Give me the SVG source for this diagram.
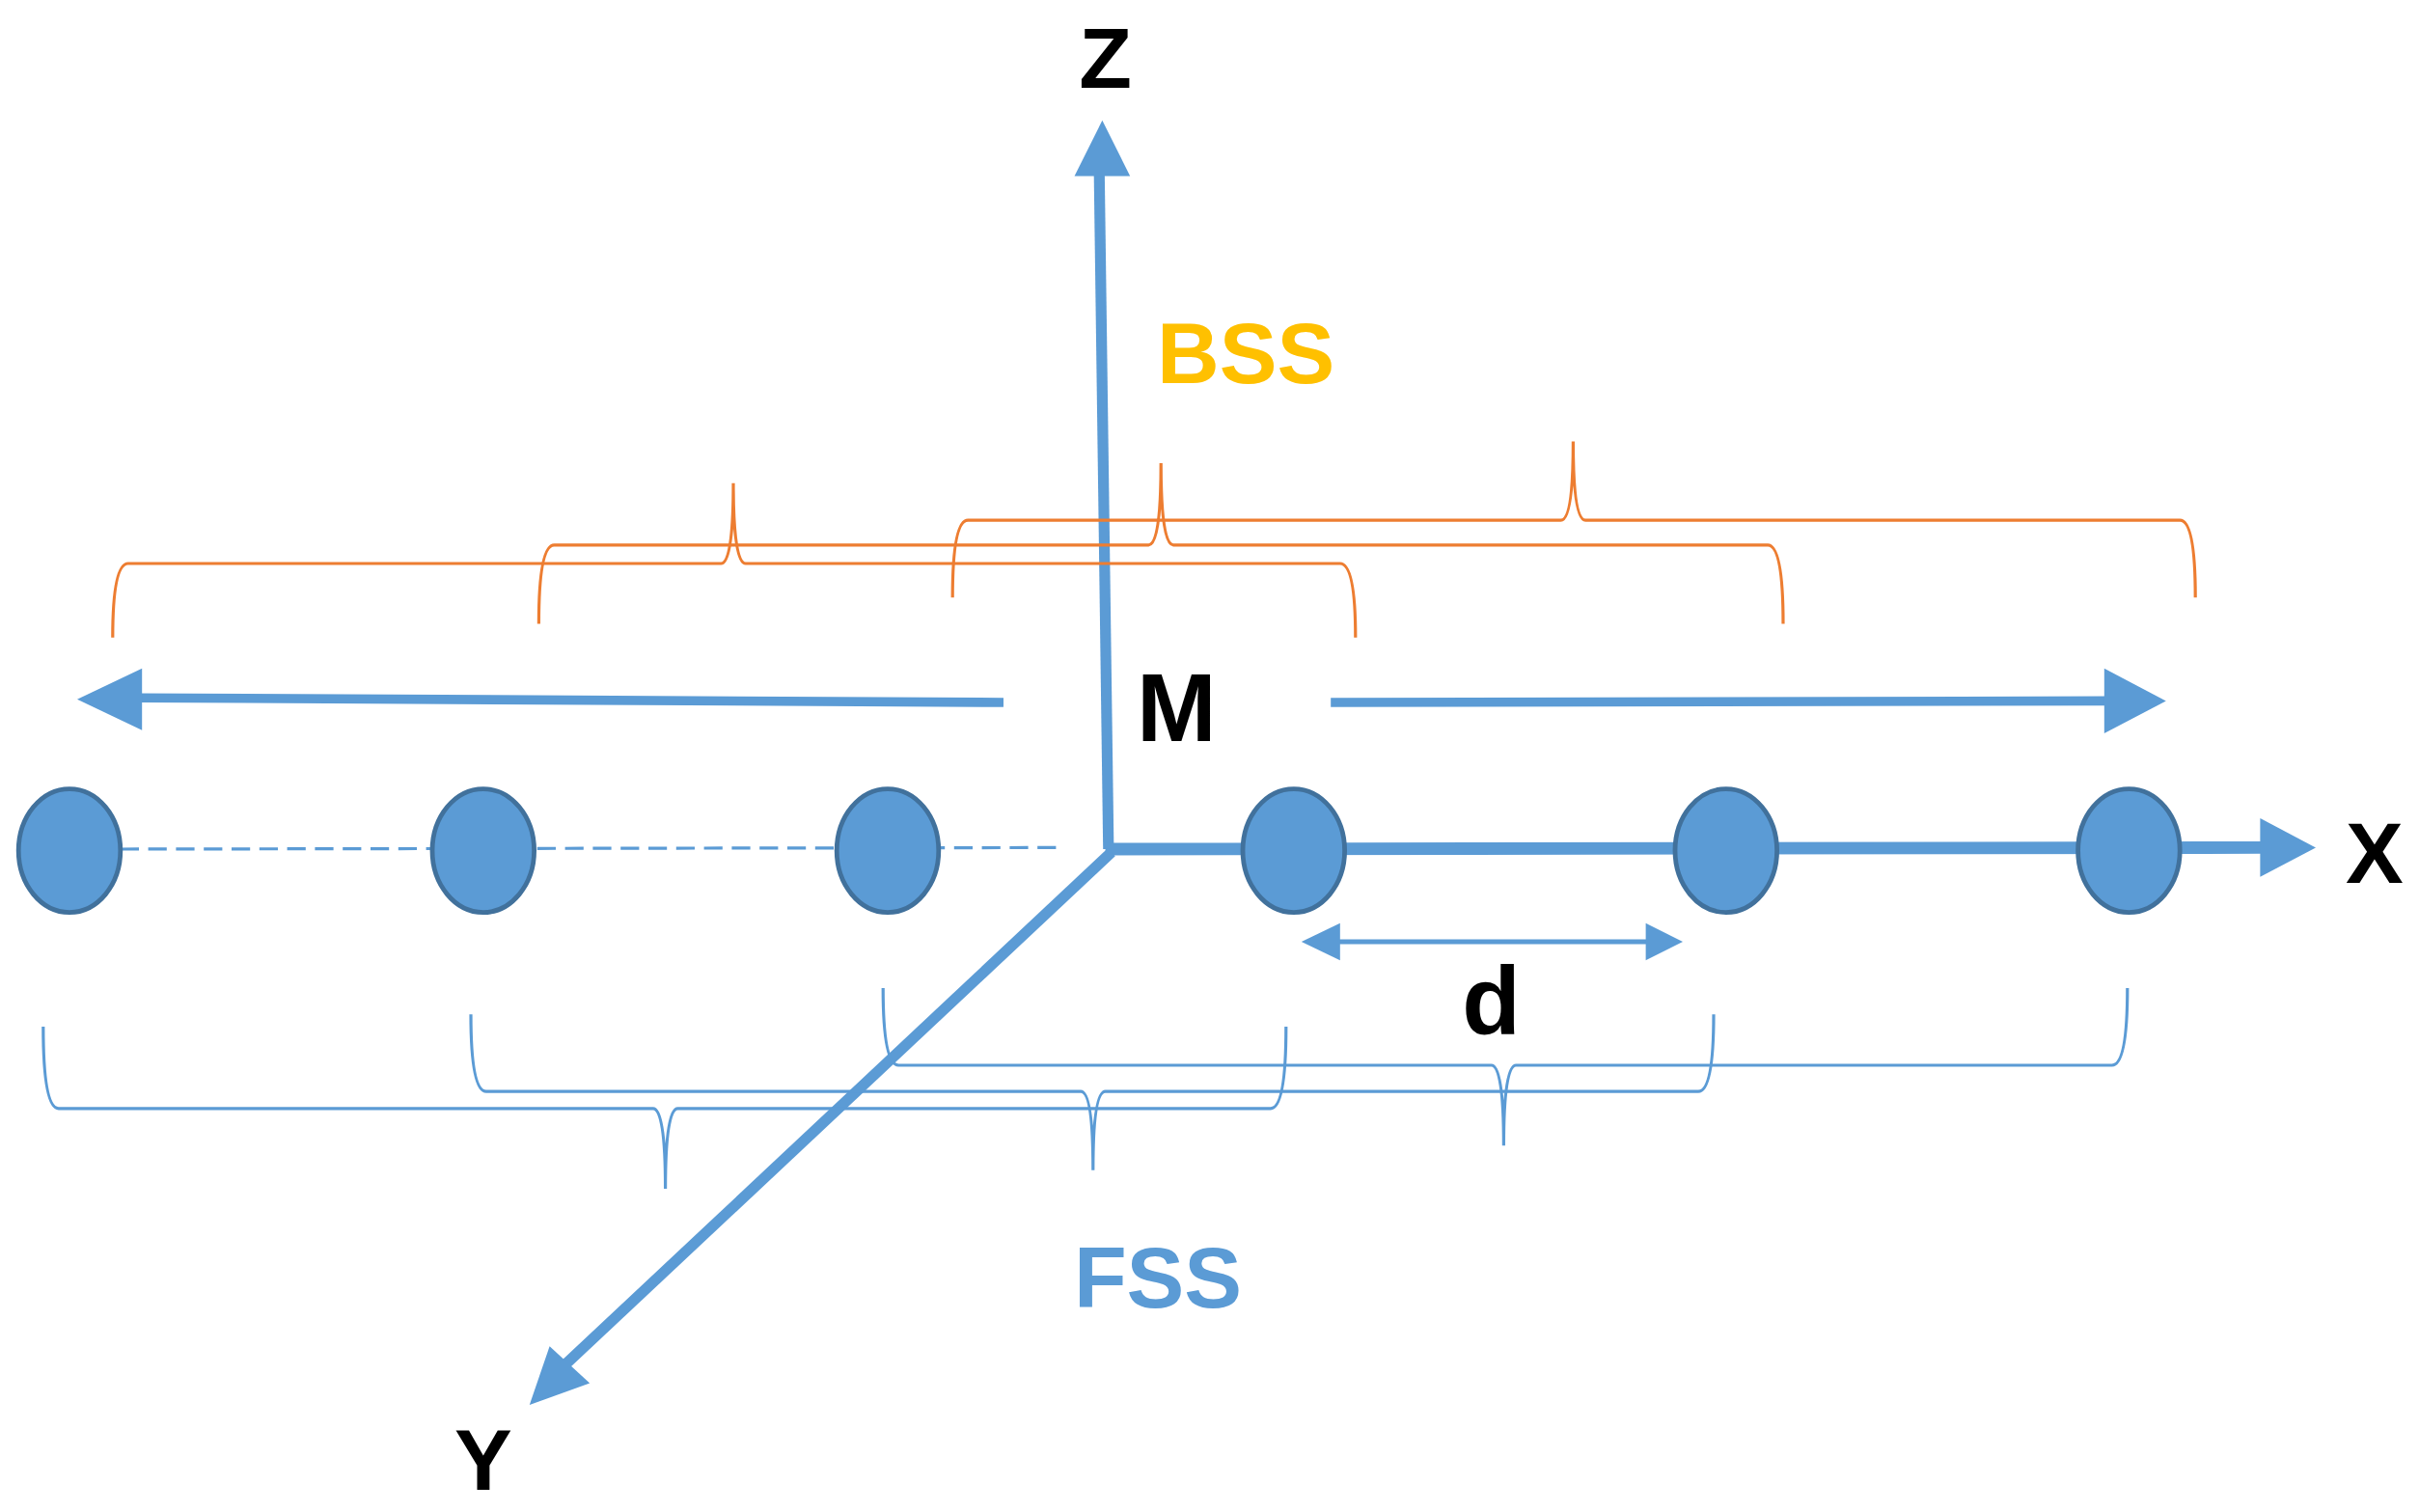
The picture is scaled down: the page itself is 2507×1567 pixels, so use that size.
<svg xmlns="http://www.w3.org/2000/svg" width="2507" height="1567" viewBox="0 0 2507 1567">
<style>
.ax{stroke:#5B9BD5;fill:none}
.hd{fill:#5B9BD5}
.ob{stroke:#ED7D31;stroke-width:2;fill:none}
.bb{stroke:#5B9BD5;stroke-width:2;fill:none}
.nd{fill:#5B9BD5;stroke:#41719C;stroke-width:3}
.t{font-family:"Liberation Sans",Arial,sans-serif;font-weight:bold;text-anchor:middle}
</style>
<rect width="2507" height="1567" fill="#fff"/>
<g transform="scale(1.6)">
<g id="connectors">
<line class="ax" x1="78" y1="550" x2="686" y2="549" stroke-width="2" stroke-dasharray="12,6"/>
<line class="ax" x1="718" y1="550" x2="712" y2="110" stroke-width="7"/>
<polygon class="hd" points="714,78 696,114 732,114"/>
<line class="ax" x1="716" y1="550" x2="1466" y2="549" stroke-width="8"/>
<polygon class="hd" points="1500,549 1464,530 1464,568"/>
<line class="ax" x1="720" y1="552" x2="366" y2="884" stroke-width="7"/>
<polygon class="hd" points="343,910 356,872 382,896"/>
<line class="ax" x1="650" y1="455" x2="88" y2="452" stroke-width="6"/>
<polygon class="hd" points="50,453 92,433 92,473"/>
<line class="ax" x1="862" y1="455" x2="1366" y2="454" stroke-width="6"/>
<polygon class="hd" points="1403,454 1363,433 1363,475"/>
<line class="ax" x1="862" y1="610" x2="1070" y2="610" stroke-width="3"/>
<polygon class="hd" points="843,610 868,598 868,622"/>
<polygon class="hd" points="1090,610 1066,598 1066,622"/>
<path class="ob" d="M73,413 Q73,365 83,365 L467,365 Q475,365 475,313 Q475,365 483,365 L868,365 Q878,365 878,413"/>
<path class="ob" d="M349,404 Q349,353 359,353 L744,353 Q752,353 752,300 Q752,353 760,353 L1145,353 Q1155,353 1155,404"/>
<path class="ob" d="M617,387 Q617,337 627,337 L1011,337 Q1019,337 1019,286 Q1019,337 1027,337 L1412,337 Q1422,337 1422,387"/>
<path class="bb" d="M28,665 Q28,718 38,718 L423,718 Q431,718 431,770 Q431,718 439,718 L823,718 Q833,718 833,665"/>
<path class="bb" d="M305,657 Q305,707 315,707 L700,707 Q708,707 708,758 Q708,707 716,707 L1100,707 Q1110,707 1110,657"/>
<path class="bb" d="M572,640 Q572,690 582,690 L966,690 Q974,690 974,742 Q974,690 982,690 L1368,690 Q1378,690 1378,640"/>
</g>
<g id="n1"><ellipse class="nd" cx="45" cy="551" rx="33" ry="40"/></g>
<g id="n2"><ellipse class="nd" cx="313" cy="551" rx="33" ry="40"/></g>
<g id="n3"><ellipse class="nd" cx="575" cy="551" rx="33" ry="40"/></g>
<g id="n4"><ellipse class="nd" cx="838" cy="551" rx="33" ry="40"/></g>
<g id="n5"><ellipse class="nd" cx="1118" cy="551" rx="33" ry="40"/></g>
<g id="n6"><ellipse class="nd" cx="1379" cy="551" rx="33" ry="40"/></g>
<g id="labels">
<text class="t" x="716" y="57" font-size="56">Z</text>
<text class="t" x="807" y="248" font-size="56" fill="#FFC000">BSS</text>
<text class="t" x="762" y="480" font-size="62">M</text>
<text class="t" x="1538" y="572" font-size="56">X</text>
<text class="t" x="966" y="670" font-size="62">d</text>
<text class="t" x="750" y="847" font-size="56" fill="#5B9BD5">FSS</text>
<text class="t" x="313" y="965" font-size="56">Y</text>
</g>
</g>
</svg>
